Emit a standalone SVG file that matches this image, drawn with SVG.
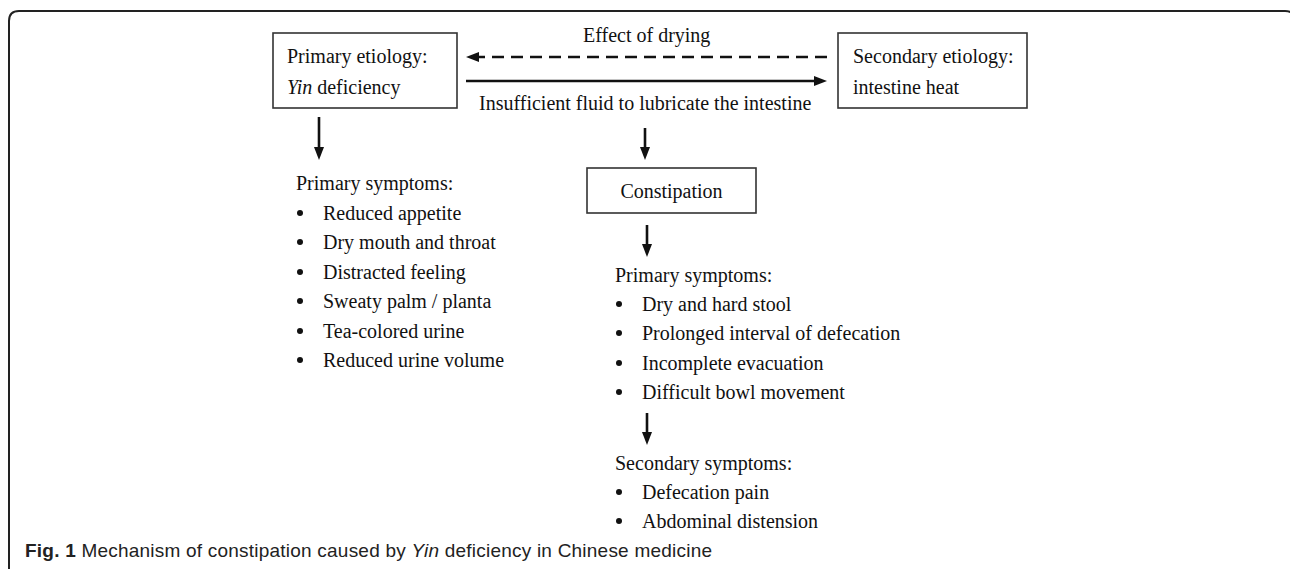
<svg xmlns="http://www.w3.org/2000/svg" width="1290" height="569" viewBox="0 0 1290 569">
<defs>
<style>
.t{font-family:"Liberation Serif","Times New Roman",serif;font-size:20px;fill:#111}
.box{fill:#fff;stroke:#333;stroke-width:1.6}
.ln{fill:none;stroke:#111;stroke-width:2.6}
.dash{stroke-dasharray:12 7}
.cap{font-family:"Liberation Sans",Arial,sans-serif;font-size:19px;fill:#222}
.bul{fill:#111}
</style>
<marker id="ah" viewBox="0 0 13 10" markerUnits="userSpaceOnUse" markerWidth="13" markerHeight="10" refX="3" refY="5" orient="auto">
<path d="M0,0 L13,5 L0,10 z" fill="#111"/>
</marker>
</defs>
<rect width="1290" height="569" fill="#fff"/>
<g id="frame">
<path d="M9,569 L9,21 Q9,11 19,11 L1285,11 Q1295,11 1295,21 L1295,569" fill="none" stroke="#222" stroke-width="2"/>
</g>
<g id="connectors">
<path class="ln dash" d="M827,57 L476,57" marker-end="url(#ah)"/>
<path class="ln" d="M466,81 L817,81" marker-end="url(#ah)"/>
<path class="ln" d="M319,117 L319,150" marker-end="url(#ah)"/>
<path class="ln" d="M645,128 L645,150" marker-end="url(#ah)"/>
<path class="ln" d="M647,225 L647,247" marker-end="url(#ah)"/>
<path class="ln" d="M647,413 L647,435" marker-end="url(#ah)"/>
<text class="t" x="583" y="42">Effect of drying</text>
<text class="t" x="479" y="110">Insufficient fluid to lubricate the intestine</text>
</g>
<g id="primary-etiology">
<rect class="box" x="273" y="33" width="184" height="75"/>
<text class="t" x="287" y="63">Primary etiology:</text>
<text class="t" x="287" y="94"><tspan font-style="italic">Yin</tspan> deficiency</text>
</g>
<g id="secondary-etiology">
<rect class="box" x="838" y="33" width="189" height="75"/>
<text class="t" x="853" y="63">Secondary etiology:</text>
<text class="t" x="853" y="94">intestine heat</text>
</g>
<g id="constipation">
<rect class="box" x="587" y="168" width="169" height="45"/>
<text class="t" x="671.5" y="198" text-anchor="middle">Constipation</text>
</g>
<g id="yin-symptoms">
<text class="t" x="296" y="190">Primary symptoms:</text>
<circle class="bul" cx="300" cy="213" r="3"/><text class="t" x="323" y="220">Reduced appetite</text>
<circle class="bul" cx="300" cy="242" r="3"/><text class="t" x="323" y="249">Dry mouth and throat</text>
<circle class="bul" cx="300" cy="272" r="3"/><text class="t" x="323" y="279">Distracted feeling</text>
<circle class="bul" cx="300" cy="301" r="3"/><text class="t" x="323" y="308">Sweaty palm / planta</text>
<circle class="bul" cx="300" cy="331" r="3"/><text class="t" x="323" y="338">Tea-colored urine</text>
<circle class="bul" cx="300" cy="360" r="3"/><text class="t" x="323" y="367">Reduced urine volume</text>
</g>
<g id="constipation-primary-symptoms">
<text class="t" x="615" y="282">Primary symptoms:</text>
<circle class="bul" cx="619" cy="304" r="3"/><text class="t" x="642" y="311">Dry and hard stool</text>
<circle class="bul" cx="619" cy="333" r="3"/><text class="t" x="642" y="340">Prolonged interval of defecation</text>
<circle class="bul" cx="619" cy="363" r="3"/><text class="t" x="642" y="370">Incomplete evacuation</text>
<circle class="bul" cx="619" cy="392" r="3"/><text class="t" x="642" y="399">Difficult bowl movement</text>
</g>
<g id="constipation-secondary-symptoms">
<text class="t" x="615" y="470">Secondary symptoms:</text>
<circle class="bul" cx="619" cy="492" r="3"/><text class="t" x="642" y="499">Defecation pain</text>
<circle class="bul" cx="619" cy="521" r="3"/><text class="t" x="642" y="528">Abdominal distension</text>
</g>
<g id="caption">
<text class="cap" x="25" y="557" textLength="687" lengthAdjust="spacing"><tspan font-weight="bold">Fig. 1</tspan> Mechanism of constipation caused by <tspan font-style="italic">Yin</tspan> deficiency in Chinese medicine</text>
</g>
</svg>
